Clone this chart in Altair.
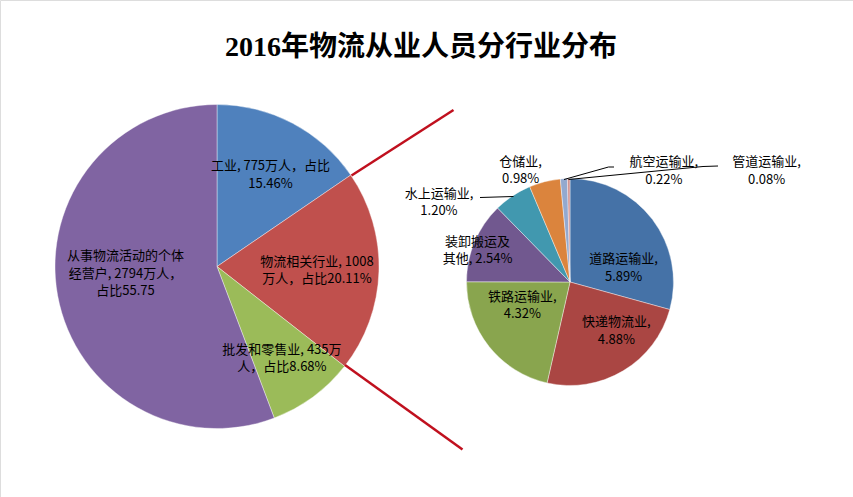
import altair as alt
import pandas as pd

title_text = "2016年物流从业人员分行业分布"

main_cats = ["工业", "物流相关行业", "批发和零售业", "从事物流活动的个体经营户"]
main_people = [775, 1008, 435, 2794]
main_share = [15.46, 20.11, 8.68, 55.75]
main_labels = [
    "工业, 775万人，占比\n15.46%",
    "物流相关行业, 1008\n万人，占比20.11%",
    "批发和零售业, 435万\n人，占比8.68%",
    "从事物流活动的个体\n经营户, 2794万人，\n占比55.75",
]
main_colors = ["#4F81BD", "#C0504D", "#9BBB59", "#8064A2"]

sub_cats = ["道路运输业", "快递物流业", "铁路运输业", "装卸搬运及其他",
            "水上运输业", "仓储业", "航空运输业", "管道运输业"]
sub_share = [5.89, 4.88, 4.32, 2.54, 1.20, 0.98, 0.22, 0.08]
sub_labels = [
    "道路运输业,\n5.89%", "快递物流业,\n4.88%", "铁路运输业,\n4.32%",
    "装卸搬运及\n其他, 2.54%", "水上运输业,\n1.20%", "仓储业,\n0.98%",
    "航空运输业,\n0.22%", "管道运输业,\n0.08%",
]
sub_colors = ["#4572A7", "#AA4643", "#89A54E", "#71588F",
              "#4198AF", "#DB843D", "#93A9CF", "#D19392"]

FONT = "Noto Sans CJK SC"
LINE_H = 17.5

# layout (styles / placement, not data)
BIG_C, BIG_R = (217, 266.5), 162
SUB_C, SUB_R = (570, 282), 103.5
big_label_place = {  # radius, dx, dy (dy of block centre)
    "工业": (106, 4, 2),
    "物流相关行业": (100, 0, 1),
    "批发和零售业": (113, -2, 1),
    "从事物流活动的个体经营户": (91, -2, -9),
}
sub_label_place = {
    "道路运输业": (51, 13, 17),
    "快递物流业": (65, 13, -7),
    "铁路运输业": (52, -7, -9),
    "装卸搬运及其他": (97, -3, 6),
    "水上运输业": (139, -54, 36),
    "仓储业": (120, -20, 5),
    "航空运输业": (105, 100, -6),
    "管道运输业": (109, 198, -2),
}
red_lines = [((351.5, 175.5), (453.5, 110)), ((345, 365), (462.5, 449.5))]
leader_lines = [
    ((480, 197.5), (513.5, 196.5)),
    ((564, 179.5), (608.5, 167)), ((608.5, 167), (614, 167)),
    ((568.5, 179.5), (703, 166.5)), ((703, 166.5), (718, 166)),
]

big_df = pd.DataFrame({"cat": main_cats, "people": main_people,
                       "share": main_share, "label": main_labels,
                       "idx": list(range(len(main_cats)))})
sub_df = pd.DataFrame({"cat": sub_cats, "share": sub_share,
                       "label": sub_labels, "idx": list(range(len(sub_cats)))})


def pie(df, cats, labels, colors, center, r, places):
    base = alt.Chart(df).encode(
        theta=alt.Theta("share:Q", stack=True),
        order=alt.Order("idx:Q", sort="ascending"),
        x=alt.value(center[0]), y=alt.value(center[1]),
    )
    arc = base.mark_arc(radius=r, stroke="white", strokeWidth=0.4).encode(
        color=alt.Color("cat:N", scale=alt.Scale(domain=cats, range=colors),
                        legend=None)
    )
    layers = [arc]
    for c, lab in zip(cats, labels):
        rad, dx, dy = places[c]
        n = lab.count("\n")
        t = base.transform_calculate(
            lab=f"datum.cat == '{c}' ? datum.label : ''"
        ).mark_text(
            radius=rad, dx=dx, dy=dy - n * LINE_H / 2, font=FONT, fontSize=13,
            lineBreak="\n", lineHeight=LINE_H, align="center",
            baseline="middle", color="black"
        ).encode(text="lab:N")
        layers.append(t)
    return alt.layer(*layers).resolve_scale(theta="independent")


big = pie(big_df, main_cats, main_labels, main_colors, BIG_C, BIG_R, big_label_place)
small = pie(sub_df, sub_cats, sub_labels, sub_colors, SUB_C, SUB_R, sub_label_place)

one = pd.DataFrame({"t": [title_text]})
title = alt.Chart(one).mark_text(
    font="Liberation Serif, " + FONT, fontSize=28, fontWeight="bold",
    align="center", baseline="middle", color="black"
).encode(text="t:N", x=alt.value(421), y=alt.value(48))

rules = []
for (p, q) in red_lines:
    rules.append(alt.Chart(one).mark_rule(color="#C0101E", strokeWidth=2.5).encode(
        x=alt.value(p[0]), y=alt.value(p[1]), x2=alt.value(q[0]), y2=alt.value(q[1])))
for (p, q) in leader_lines:
    rules.append(alt.Chart(one).mark_rule(color="black", strokeWidth=1).encode(
        x=alt.value(p[0]), y=alt.value(p[1]), x2=alt.value(q[0]), y2=alt.value(q[1])))

chart = alt.layer(big, small, *rules, title).resolve_scale(
    theta="independent", color="independent"
).properties(
    width=853, height=497, autosize=alt.AutoSizeParams(type="none"), padding=0
).configure_view(stroke=None).configure(background="white")

chart.save("out.html", embed_options={"renderer": "svg", "actions": False})
